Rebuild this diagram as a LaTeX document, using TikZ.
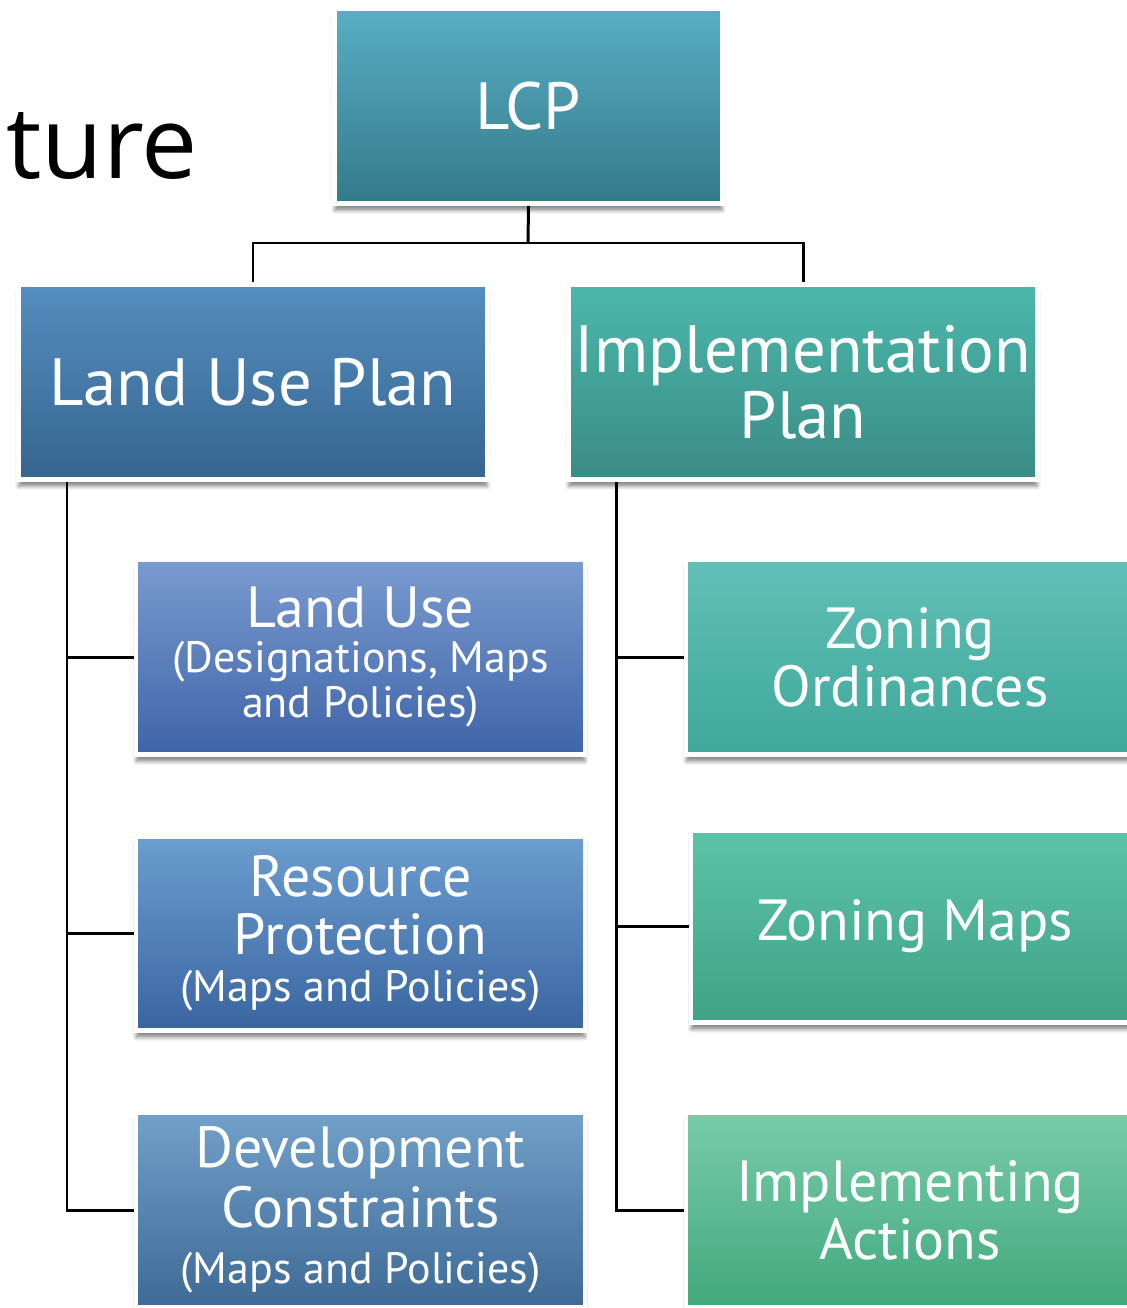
\documentclass[tikz,border=0pt]{standalone}
\usepackage{fontspec}
\setmainfont{PT Sans}
\newfontfamily\headfont{Open Sans}
\usetikzlibrary{positioning,shadows.blur}

\definecolor{lcptop}{HTML}{5AAEC3}
\definecolor{lcpbot}{HTML}{337A8A}
\definecolor{luptop}{HTML}{548DC0}
\definecolor{lupbot}{HTML}{36658F}
\definecolor{iptop}{HTML}{4BB8AB}
\definecolor{ipbot}{HTML}{3B8B85}
\definecolor{lutop}{HTML}{7A9BD0}
\definecolor{lubot}{HTML}{3F64A8}
\definecolor{rptop}{HTML}{6B9DCF}
\definecolor{rpbot}{HTML}{3A65A0}
\definecolor{dctop}{HTML}{71A0C9}
\definecolor{dcbot}{HTML}{3E6A95}
\definecolor{zotop}{HTML}{62C0B7}
\definecolor{zobot}{HTML}{3FA89A}
\definecolor{zmtop}{HTML}{5CC3A7}
\definecolor{zmbot}{HTML}{3FA285}
\definecolor{iatop}{HTML}{78CCA8}
\definecolor{iabot}{HTML}{42A87C}

\newcommand{\bigtxt}{\fontsize{38}{37.5}\selectfont}
\newcommand{\midtxt}{\fontsize{33}{33}\selectfont}
\newcommand{\smalltxt}{\fontsize{25}{25}\selectfont}

\begin{document}
\begin{tikzpicture}[x=0.02cm,y=-0.02cm]
  \tikzstyle{box}=[draw=white,line width=2.8pt,text=white,align=center,inner sep=0pt,
                   blur shadow={shadow xshift=0pt,shadow yshift=-4pt,
                                shadow blur steps=6,shadow opacity=45}]
  \tikzstyle{wire}=[line width=1.7pt,black]

  \useasboundingbox (0,0) rectangle (1126,1308);

  \node[anchor=base west,font=\headfont\fontsize{57}{60}\selectfont] (title) at (0,178) {ture};

  % top level
  \node[box,font=\bigtxt,minimum width=388*0.02cm,minimum height=195*0.02cm,
        top color=lcptop,bottom color=lcpbot] (LCP) at (528.5,106) {LCP};

  % second level
  \node[box,font=\bigtxt,minimum width=469*0.02cm,minimum height=195*0.02cm,
        top color=luptop,bottom color=lupbot] (LUP) at (253,382) {Land Use Plan};
  \node[box,font=\bigtxt,minimum width=469*0.02cm,minimum height=195*0.02cm,
        top color=iptop,bottom color=ipbot] (IP) at (803,382)
        {Implementation\\Plan};

  % land use plan items
  \node[box,font=\midtxt,minimum width=449*0.02cm,minimum height=195*0.02cm,
        top color=lutop,bottom color=lubot] (LU) at (360.5,657)
        {Land Use\\[-7.5pt]{\smalltxt (Designations, Maps}\\[-7.5pt]{\smalltxt and Policies)}};
  \node[box,font=\midtxt,minimum width=449*0.02cm,minimum height=194*0.02cm,
        top color=rptop,bottom color=rpbot] (RP) at (360.5,933.5)
        {Resource\\Protection\\[-6pt]{\smalltxt (Maps and Policies)}};
  \node[box,font=\midtxt,minimum width=449*0.02cm,minimum height=195*0.02cm,
        top color=dctop,bottom color=dcbot] (DC) at (360.5,1210)
        {Development\\[1pt]Constraints\\[-1pt]{\smalltxt (Maps and Policies)}};

  % implementation plan items
  \node[box,font=\midtxt,minimum width=448*0.02cm,minimum height=195*0.02cm,
        top color=zotop,bottom color=zobot] (ZO) at (910,657)
        {Zoning\\Ordinances};
  \node[box,font=\midtxt,minimum width=449*0.02cm,minimum height=192*0.02cm,
        top color=zmtop,bottom color=zmbot] (ZM) at (915.5,926.5)
        {Zoning Maps};
  \node[box,font=\midtxt,minimum width=448*0.02cm,minimum height=195*0.02cm,
        top color=iatop,bottom color=iabot] (IA) at (910,1210)
        {Implementing\\Actions};

  % connectors
  \coordinate (split) at (528,243);
  \coordinate (ltrunk) at (67,482);
  \coordinate (rtrunk) at (616,482);

  \draw[wire] (LCP.south) -- (split);
  \draw[wire] (LUP.north) |- (split) -| (IP.north);

  \draw[wire] (ltrunk) |- (DC.west);
  \draw[wire] (ltrunk |- LU.west) -- (LU.west);
  \draw[wire] (ltrunk |- RP.west) -- (RP.west);

  \draw[wire] (rtrunk) |- (IA.west);
  \draw[wire] (rtrunk |- ZO.west) -- (ZO.west);
  \draw[wire] (rtrunk |- ZM.west) -- (ZM.west);
\end{tikzpicture}
\end{document}
